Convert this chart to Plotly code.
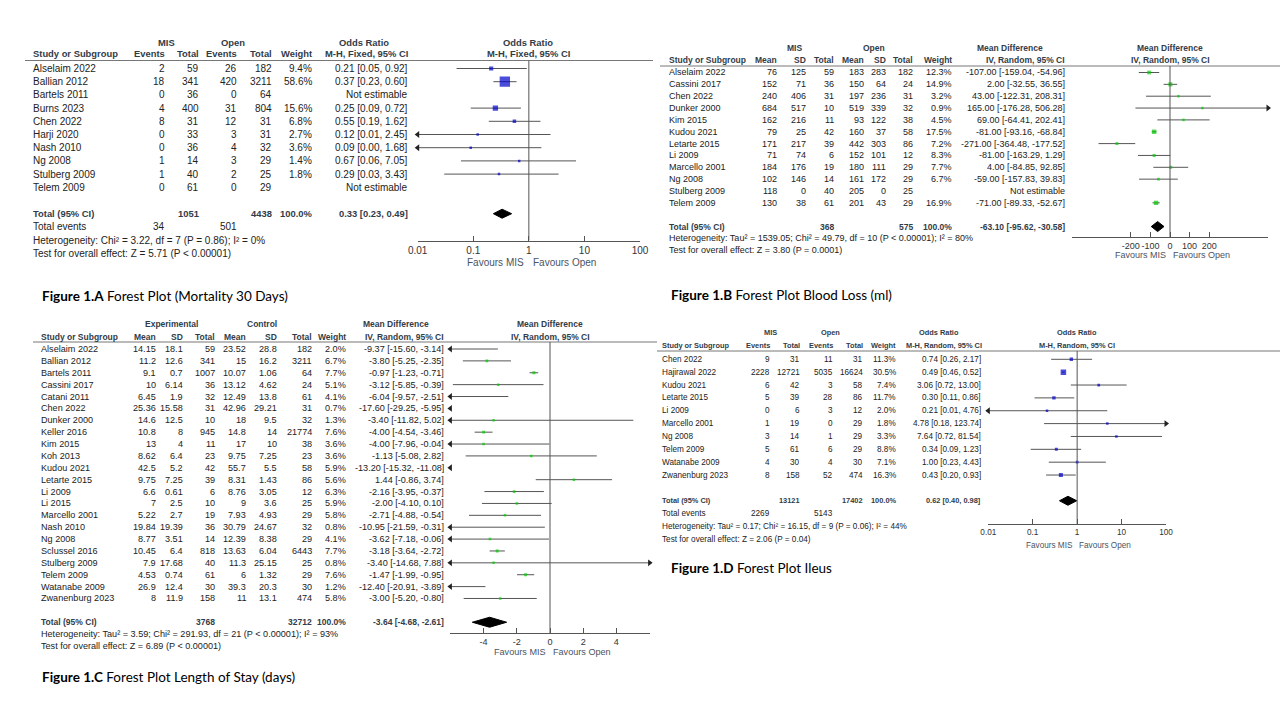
import math
import plotly.graph_objects as go

# ------------------------------------------------------------------ DATA
# Figure 1.A  Mortality 30 days (Odds Ratio, M-H fixed)
A_studies = ["Alselaim 2022", "Ballian 2012", "Bartels 2011", "Burns 2023", "Chen 2022",
             "Harji 2020", "Nash 2010", "Ng 2008", "Stulberg 2009", "Telem 2009"]
A_mis_events = [2, 18, 0, 4, 8, 0, 0, 1, 1, 0]
A_mis_total = [59, 341, 36, 400, 31, 33, 36, 14, 40, 61]
A_open_events = [26, 420, 0, 31, 12, 3, 4, 3, 2, 0]
A_open_total = [182, 3211, 64, 804, 31, 31, 32, 29, 25, 29]
A_weight = [9.4, 58.6, None, 15.6, 6.8, 2.7, 3.6, 1.4, 1.8, None]
A_est = [0.21, 0.37, None, 0.25, 0.55, 0.12, 0.09, 0.67, 0.29, None]
A_lo = [0.05, 0.23, None, 0.09, 0.19, 0.01, 0.00, 0.06, 0.03, None]
A_hi = [0.92, 0.60, None, 0.72, 1.62, 2.45, 1.68, 7.05, 3.43, None]
A_total = [0.33, 0.23, 0.49]
A_total_n = [1051, 4438]
A_total_events = [34, 501]
A_het = "Heterogeneity: Chi² = 3.22, df = 7 (P = 0.86); I² = 0%"
A_test = "Test for overall effect: Z = 5.71 (P &lt; 0.00001)"

# Figure 1.B  Blood loss (Mean Difference, IV random)
B_studies = ["Alselaim 2022", "Cassini 2017", "Chen 2022", "Dunker 2000", "Kim 2015", "Kudou 2021",
             "Letarte 2015", "Li 2009", "Marcello 2001", "Ng 2008", "Stulberg 2009", "Telem 2009"]
B_mis_mean = [76, 152, 240, 684, 162, 79, 171, 71, 184, 102, 118, 130]
B_mis_sd = [125, 71, 406, 517, 216, 25, 217, 74, 176, 146, 0, 38]
B_mis_n = [59, 36, 31, 10, 11, 42, 39, 6, 19, 14, 40, 61]
B_open_mean = [183, 150, 197, 519, 93, 160, 442, 152, 180, 161, 205, 201]
B_open_sd = [283, 64, 236, 339, 122, 37, 303, 101, 111, 172, 0, 43]
B_open_n = [182, 24, 31, 32, 38, 58, 86, 12, 29, 29, 25, 29]
B_weight = [12.3, 14.9, 3.2, 0.9, 4.5, 17.5, 7.2, 8.3, 7.7, 6.7, None, 16.9]
B_est = [-107.00, 2.00, 43.00, 165.00, 69.00, -81.00, -271.00, -81.00, 4.00, -59.00, None, -71.00]
B_lo = [-159.04, -32.55, -122.31, -176.28, -64.41, -93.16, -364.48, -163.29, -84.85, -157.83, None, -89.33]
B_hi = [-54.96, 36.55, 208.31, 506.28, 202.41, -68.84, -177.52, 1.29, 92.85, 39.83, None, -52.67]
B_total = [-63.10, -95.62, -30.58]
B_total_n = [368, 575]
B_het = "Heterogeneity: Tau² = 1539.05; Chi² = 49.79, df = 10 (P &lt; 0.00001); I² = 80%"
B_test = "Test for overall effect: Z = 3.80 (P = 0.0001)"

# Figure 1.C  Length of stay (Mean Difference, IV random)
C_studies = ["Alselaim 2022", "Ballian 2012", "Bartels 2011", "Cassini 2017", "Catani 2011", "Chen 2022",
             "Dunker 2000", "Keller 2016", "Kim 2015", "Koh 2013", "Kudou 2021", "Letarte 2015",
             "Li 2009", "Li 2015", "Marcello 2001", "Nash 2010", "Ng 2008", "Sclussel 2016",
             "Stulberg 2009", "Telem 2009", "Watanabe 2009", "Zwanenburg 2023"]
C_exp_mean = [14.15, 11.2, 9.1, 10, 6.45, 25.36, 14.6, 10.8, 13, 8.62, 42.5, 9.75, 6.6, 7, 5.22,
              19.84, 8.77, 10.45, 7.9, 4.53, 26.9, 8]
C_exp_sd = [18.1, 12.6, 0.7, 6.14, 1.9, 15.58, 12.5, 8, 4, 6.4, 5.2, 7.25, 0.61, 2.5, 2.7,
            19.39, 3.51, 6.4, 17.68, 0.74, 12.4, 11.9]
C_exp_n = [59, 341, 1007, 36, 32, 31, 10, 945, 11, 23, 42, 39, 6, 10, 19, 36, 14, 818, 40, 61, 30, 158]
C_ctl_mean = [23.52, 15, 10.07, 13.12, 12.49, 42.96, 18, 14.8, 17, 9.75, 55.7, 8.31, 8.76, 9, 7.93,
              30.79, 12.39, 13.63, 11.3, 6, 39.3, 11]
C_ctl_sd = [28.8, 16.2, 1.06, 4.62, 13.8, 29.21, 9.5, 14, 10, 7.25, 5.5, 1.43, 3.05, 3.6, 4.93,
            24.67, 8.38, 6.04, 25.15, 1.32, 20.3, 13.1]
C_ctl_n = [182, 3211, 64, 24, 61, 31, 32, 21774, 38, 23, 58, 86, 12, 25, 29, 32, 29, 6443, 25, 29, 30, 474]
C_weight = [2.0, 6.7, 7.7, 5.1, 4.1, 0.7, 1.3, 7.6, 3.6, 3.6, 5.9, 5.6, 6.3, 5.9, 5.8, 0.8, 4.1,
            7.7, 0.8, 7.6, 1.2, 5.8]
C_est = [-9.37, -3.80, -0.97, -3.12, -6.04, -17.60, -3.40, -4.00, -4.00, -1.13, -13.20, 1.44, -2.16,
         -2.00, -2.71, -10.95, -3.62, -3.18, -3.40, -1.47, -12.40, -3.00]
C_lo = [-15.60, -5.25, -1.23, -5.85, -9.57, -29.25, -11.82, -4.54, -7.96, -5.08, -15.32, -0.86, -3.95,
        -4.10, -4.88, -21.59, -7.18, -3.64, -14.68, -1.99, -20.91, -5.20]
C_hi = [-3.14, -2.35, -0.71, -0.39, -2.51, -5.95, 5.02, -3.46, -0.04, 2.82, -11.08, 3.74, -0.37,
        0.10, -0.54, -0.31, -0.06, -2.72, 7.88, -0.95, -3.89, -0.80]
C_total = [-3.64, -4.68, -2.61]
C_total_n = [3768, 32712]
C_het = "Heterogeneity: Tau² = 3.59; Chi² = 291.93, df = 21 (P &lt; 0.00001); I² = 93%"
C_test = "Test for overall effect: Z = 6.89 (P &lt; 0.00001)"

# Figure 1.D  Ileus (Odds Ratio, M-H random)
D_studies = ["Chen 2022", "Hajirawal 2022", "Kudou 2021", "Letarte 2015", "Li 2009", "Marcello 2001",
             "Ng 2008", "Telem 2009", "Watanabe 2009", "Zwanenburg 2023"]
D_mis_events = [9, 2228, 6, 5, 0, 1, 3, 5, 4, 8]
D_mis_total = [31, 12721, 42, 39, 6, 19, 14, 61, 30, 158]
D_open_events = [11, 5035, 3, 28, 3, 0, 1, 6, 4, 52]
D_open_total = [31, 16624, 58, 86, 12, 29, 29, 29, 30, 474]
D_weight = [11.3, 30.5, 7.4, 11.7, 2.0, 1.8, 3.3, 8.8, 7.1, 16.3]
D_est = [0.74, 0.49, 3.06, 0.30, 0.21, 4.78, 7.64, 0.34, 1.00, 0.43]
D_lo = [0.26, 0.46, 0.72, 0.11, 0.01, 0.18, 0.72, 0.09, 0.23, 0.20]
D_hi = [2.17, 0.52, 13.00, 0.86, 4.76, 123.74, 81.54, 1.23, 4.43, 0.93]
D_total = [0.62, 0.40, 0.98]
D_total_n = [13121, 17402]
D_total_events = [2269, 5143]
D_het = "Heterogeneity: Tau² = 0.17; Chi² = 16.15, df = 9 (P = 0.06); I² = 44%"
D_test = "Test for overall effect: Z = 2.06 (P = 0.04)"

LOG_TICKS = [0.01, 0.1, 1, 10, 100]
LOG_TICKTEXT = ["0.01", "0.1", "1", "10", "100"]
B_TICKS = [-200, -100, 0, 100, 200]
C_TICKS = [-4, -2, 0, 2, 4]

# ------------------------------------------------------------------ STYLE / GEOMETRY
W, H = 1280, 720
FONT = "Liberation Sans, Arial, sans-serif"
CAP_FONT = "Lato, sans-serif"
TXT = "#222222"
HDR = "#323c48"
FAV = "#4a5464"
LINE = "#555555"
BLUE = "#0000cc"
GREEN = "#00cc00"

GEO = {
    "A": dict(h1=42, h2=53.5, hl=60.5, hlx=(25, 653), row0=68.5, step=13.2, fs=10, hfs=9.4,
              px0=417.7, px1=640, axis=240.5, fav_y=262, fav_l=524, fav_r=533,
              sq=1.35, dh=4.5, cap=(42, 296)),
    "B": dict(h1=48, h2=60, hl=66, hlx=(660, 1280), row0=72.5, step=11.85, fs=9, hfs=8.5,
              px0=1072, px1=1268, axis=237, fav_y=255, fav_l=1166, fav_r=1173,
              sq=1.05, dh=5, cap=(671, 295)),
    "C": dict(h1=323.5, h2=336.5, hl=342, hlx=(33, 657), row0=349, step=11.88, fs=9.1, hfs=8.5,
              px0=450.4, px1=649.6, axis=633, fav_y=652, fav_l=546, fav_r=553,
              sq=1.05, dh=5, cap=(42, 677)),
    "D": dict(h1=332.5, h2=345, hl=351, hlx=(657, 1280), row0=359.3, step=12.86, fs=8.2, hfs=7.4,
              px0=988.3, px1=1166, axis=524, fav_y=545, fav_l=1073, fav_r=1079,
              sq=1.0, dh=4.5, cap=(671, 568)),
}

fig = go.Figure()
annotations, shapes = [], []


def xp(px):
    return px / W


def yp(py):
    return 1 - py / H


def txt(text, x, y, size, anchor="right", color=TXT, bold=False, family=FONT):
    annotations.append(dict(text=f"<b>{text}</b>" if bold else text, x=xp(x), y=yp(y),
                            xref="paper", yref="paper", xanchor=anchor, yanchor="middle",
                            showarrow=False, borderpad=0, borderwidth=0,
                            font=dict(family=family, size=size, color=color)))


def g(v):
    return "" if v is None else f"{v:g}"


def pct(v):
    return "" if v is None else f"{v:.1f}%"


def ci(e, l, h):
    return "Not estimable" if e is None else f"{e:.2f} [{l:.2f}, {h:.2f}]"


def rowpx(geo, r):
    return geo["row0"] + r * geo["step"]


def table(geo, header1, header2, columns, extra):
    fs, hfs = geo["fs"], geo["hfs"]
    for t, x, a in header1:
        txt(t, x, geo["h1"], hfs, a, HDR, True)
    for t, x, a in header2:
        txt(t, x, geo["h2"], hfs, a, HDR, True)
    shapes.append(dict(type="line", xref="paper", yref="paper", x0=xp(geo["hlx"][0]), x1=xp(geo["hlx"][1]),
                       y0=yp(geo["hl"]), y1=yp(geo["hl"]), line=dict(color="#777777", width=1)))
    for values, x, a in columns:
        for r, s in enumerate(values):
            txt(s, x, rowpx(geo, r), fs, a)
    for r, items in extra:
        for t, x, a, b in items:
            txt(t, x, rowpx(geo, r), hfs if b else fs, a, HDR if b else TXT, b)


def forest(k, geo, est, lo, hi, wts, tot, color, log, xlim, tickvals, ticktext):
    sfx = "" if k == 1 else str(k)
    xmin, xmax = xlim
    step, row0 = geo["step"], geo["row0"]
    rng = [math.log10(xmin), math.log10(xmax)] if log else [xmin, xmax]
    fig.update_layout(**{
        f"xaxis{sfx}": dict(domain=[xp(geo["px0"]), xp(geo["px1"])], range=rng,
                            type="log" if log else "linear", anchor=f"y{sfx}",
                            showline=True, linecolor=LINE, linewidth=1, ticks="inside", ticklen=5,
                            tickcolor=LINE, tickvals=tickvals, ticktext=ticktext, tickangle=0,
                            tickfont=dict(family=FONT, size=geo["fs"], color="#333333"),
                            showgrid=False, zeroline=False, fixedrange=True, automargin=False),
        f"yaxis{sfx}": dict(domain=[yp(geo["axis"]), yp(geo["hl"])],
                            range=[(geo["axis"] - row0) / step, (geo["hl"] - row0) / step],
                            visible=False, anchor=f"x{sfx}", fixedrange=True, automargin=False),
    })
    xa, ya = f"x{sfx}", f"y{sfx}"
    lx, ly, sx, sy, ss = [], [], [], [], []
    alx, aly, arx, ary = [], [], [], []
    for i, e in enumerate(est):
        if e is None:
            continue
        a, b = max(lo[i], xmin), min(hi[i], xmax)
        if a < b:
            lx += [a, b, None]
            ly += [i, i, None]
        if lo[i] <= xmin:
            alx.append(xmin)
            aly.append(i)
        if hi[i] >= xmax:
            arx.append(xmax)
            ary.append(i)
        if xmin < e < xmax:
            sx.append(e)
            sy.append(i)
            ss.append(max(2.5, geo["sq"] * math.sqrt(wts[i])))
    fig.add_trace(go.Scatter(x=lx, y=ly, mode="lines", line=dict(color=LINE, width=1),
                             xaxis=xa, yaxis=ya, hoverinfo="skip"))
    fig.add_trace(go.Scatter(x=sx, y=sy, mode="markers", xaxis=xa, yaxis=ya, hoverinfo="skip",
                             marker=dict(symbol="square", size=ss, color=color, line=dict(width=0))))
    fig.add_trace(go.Scatter(x=alx, y=aly, mode="markers", xaxis=xa, yaxis=ya, cliponaxis=False,
                             hoverinfo="skip",
                             marker=dict(symbol="triangle-left", size=6, color="#222222")))
    fig.add_trace(go.Scatter(x=arx, y=ary, mode="markers", xaxis=xa, yaxis=ya, cliponaxis=False,
                             hoverinfo="skip",
                             marker=dict(symbol="triangle-right", size=6, color="#222222")))
    R = len(est) + 1
    dh = geo["dh"] / step
    te, tl, th = tot
    fig.add_trace(go.Scatter(x=[tl, te, th, te, tl], y=[R, R - dh, R, R + dh, R], mode="lines",
                             fill="toself", fillcolor="black", line=dict(color="black", width=1),
                             xaxis=xa, yaxis=ya, hoverinfo="skip"))
    shapes.append(dict(type="line", xref=xa, yref=f"{ya} domain", x0=1 if log else 0, x1=1 if log else 0,
                       y0=0, y1=1, line=dict(color=LINE, width=1)))
    txt("Favours MIS", geo["fav_l"], geo["fav_y"], geo["fs"], "right", FAV)
    txt("Favours Open", geo["fav_r"], geo["fav_y"], geo["fs"], "left", FAV)


def caption(geo, bold, rest):
    txt(f"<b>{bold}</b> {rest}", geo["cap"][0], geo["cap"][1], 13.5, "left", "#000000", False, CAP_FONT)


# ------------------------------------------------------------------ PANEL A
gA = GEO["A"]
nA = len(A_studies)
table(gA,
      [("MIS", 166, "center"), ("Open", 233, "center"), ("Odds Ratio", 364, "center"), ("Odds Ratio", 528, "center")],
      [("Study or Subgroup", 33, "left"), ("Events", 165, "right"), ("Total", 199, "right"),
       ("Events", 237, "right"), ("Total", 272, "right"), ("Weight", 312, "right"),
       ("M-H, Fixed, 95% CI", 408, "right"), ("M-H, Fixed, 95% CI", 528, "center")],
      [(A_studies, 33, "left"), ([g(v) for v in A_mis_events], 165, "right"),
       ([g(v) for v in A_mis_total], 199, "right"), ([g(v) for v in A_open_events], 237, "right"),
       ([g(v) for v in A_open_total], 272, "right"), ([pct(v) for v in A_weight], 312, "right"),
       ([ci(e, l, h) for e, l, h in zip(A_est, A_lo, A_hi)], 408, "right")],
      [(nA + 1, [("Total (95% CI)", 33, "left", True), (g(A_total_n[0]), 199, "right", True),
                 (g(A_total_n[1]), 272, "right", True), ("100.0%", 312, "right", True),
                 (ci(*A_total), 408, "right", True)]),
       (nA + 2, [("Total events", 33, "left", False), (g(A_total_events[0]), 165, "right", False),
                 (g(A_total_events[1]), 237, "right", False)]),
       (nA + 3, [(A_het, 33, "left", False)]),
       (nA + 4, [(A_test, 33, "left", False)])])
forest(1, gA, A_est, A_lo, A_hi, A_weight, A_total, BLUE, True, (0.01, 100), LOG_TICKS, LOG_TICKTEXT)
caption(gA, "Figure 1.A", "Forest Plot (Mortality 30 Days)")

# ------------------------------------------------------------------ PANEL B
gB = GEO["B"]
nB = len(B_studies)
table(gB,
      [("MIS", 794, "center"), ("Open", 874, "center"), ("Mean Difference", 1010, "center"),
       ("Mean Difference", 1170, "center")],
      [("Study or Subgroup", 669, "left"), ("Mean", 777, "right"), ("SD", 806, "right"), ("Total", 834, "right"),
       ("Mean", 864, "right"), ("SD", 886, "right"), ("Total", 913, "right"), ("Weight", 952, "right"),
       ("IV, Random, 95% CI", 1065, "right"), ("IV, Random, 95% CI", 1170, "center")],
      [(B_studies, 669, "left"), ([g(v) for v in B_mis_mean], 777, "right"),
       ([g(v) for v in B_mis_sd], 806, "right"), ([g(v) for v in B_mis_n], 834, "right"),
       ([g(v) for v in B_open_mean], 864, "right"), ([g(v) for v in B_open_sd], 886, "right"),
       ([g(v) for v in B_open_n], 913, "right"), ([pct(v) for v in B_weight], 952, "right"),
       ([ci(e, l, h) for e, l, h in zip(B_est, B_lo, B_hi)], 1065, "right")],
      [(nB + 1, [("Total (95% CI)", 669, "left", True), (g(B_total_n[0]), 834, "right", True),
                 (g(B_total_n[1]), 913, "right", True), ("100.0%", 952, "right", True),
                 (ci(*B_total), 1065, "right", True)]),
       (nB + 2, [(B_het, 669, "left", False)]),
       (nB + 3, [(B_test, 669, "left", False)])])
forest(2, gB, B_est, B_lo, B_hi, B_weight, B_total, GREEN, False, (-500, 500), B_TICKS,
       [str(v) for v in B_TICKS])
caption(gB, "Figure 1.B", "Forest Plot Blood Loss (ml)")

# ------------------------------------------------------------------ PANEL C
gC = GEO["C"]
nC = len(C_studies)
table(gC,
      [("Experimental", 171, "center"), ("Control", 262, "center"), ("Mean Difference", 396, "center"),
       ("Mean Difference", 550, "center")],
      [("Study or Subgroup", 40.7, "left"), ("Mean", 156, "right"), ("SD", 183, "right"), ("Total", 215, "right"),
       ("Mean", 246, "right"), ("SD", 277, "right"), ("Total", 312, "right"), ("Weight", 346, "right"),
       ("IV, Random, 95% CI", 444, "right"), ("IV, Random, 95% CI", 550, "center")],
      [(C_studies, 40.7, "left"), ([g(v) for v in C_exp_mean], 156, "right"),
       ([g(v) for v in C_exp_sd], 183, "right"), ([g(v) for v in C_exp_n], 215, "right"),
       ([g(v) for v in C_ctl_mean], 246, "right"), ([g(v) for v in C_ctl_sd], 277, "right"),
       ([g(v) for v in C_ctl_n], 312, "right"), ([pct(v) for v in C_weight], 346, "right"),
       ([ci(e, l, h) for e, l, h in zip(C_est, C_lo, C_hi)], 444, "right")],
      [(nC + 1, [("Total (95% CI)", 40.7, "left", True), (g(C_total_n[0]), 215, "right", True),
                 (g(C_total_n[1]), 312, "right", True), ("100.0%", 346, "right", True),
                 (ci(*C_total), 444, "right", True)]),
       (nC + 2, [(C_het, 40.7, "left", False)]),
       (nC + 3, [(C_test, 40.7, "left", False)])])
forest(3, gC, C_est, C_lo, C_hi, C_weight, C_total, GREEN, False, (-6, 6), C_TICKS,
       [str(v) for v in C_TICKS])
caption(gC, "Figure 1.C", "Forest Plot Length of Stay (days)")

# ------------------------------------------------------------------ PANEL D
gD = GEO["D"]
nD = len(D_studies)
table(gD,
      [("MIS", 770, "center"), ("Open", 830, "center"), ("Odds Ratio", 939, "center"), ("Odds Ratio", 1077, "center")],
      [("Study or Subgroup", 662, "left"), ("Events", 770, "right"), ("Total", 800, "right"),
       ("Events", 833, "right"), ("Total", 863, "right"), ("Weight", 896, "right"),
       ("M-H, Random, 95% CI", 982, "right"), ("M-H, Random, 95% CI", 1077, "center")],
      [(D_studies, 662, "left"), ([g(v) for v in D_mis_events], 770, "right"),
       ([g(v) for v in D_mis_total], 800, "right"), ([g(v) for v in D_open_events], 833, "right"),
       ([g(v) for v in D_open_total], 863, "right"), ([pct(v) for v in D_weight], 896, "right"),
       ([ci(e, l, h) for e, l, h in zip(D_est, D_lo, D_hi)], 981, "right")],
      [(nD + 1, [("Total (95% CI)", 662, "left", True), (g(D_total_n[0]), 800, "right", True),
                 (g(D_total_n[1]), 863, "right", True), ("100.0%", 896, "right", True),
                 (ci(*D_total), 981, "right", True)]),
       (nD + 2, [("Total events", 662, "left", False), (g(D_total_events[0]), 770, "right", False),
                 (g(D_total_events[1]), 833, "right", False)]),
       (nD + 3, [(D_het, 662, "left", False)]),
       (nD + 4, [(D_test, 662, "left", False)])])
forest(4, gD, D_est, D_lo, D_hi, D_weight, D_total, BLUE, True, (0.01, 100), LOG_TICKS, LOG_TICKTEXT)
caption(gD, "Figure 1.D", "Forest Plot Ileus")

fig.update_layout(width=W, height=H, autosize=False,
                  margin=dict(l=0, r=0, t=0, b=0, pad=0, autoexpand=False), showlegend=False,
                  paper_bgcolor="white", plot_bgcolor="white",
                  annotations=annotations, shapes=shapes)
fig.write_html("out.html", config={"displayModeBar": False, "responsive": False},
               post_script="document.body.style.margin='0px';document.body.style.overflow='hidden';")
